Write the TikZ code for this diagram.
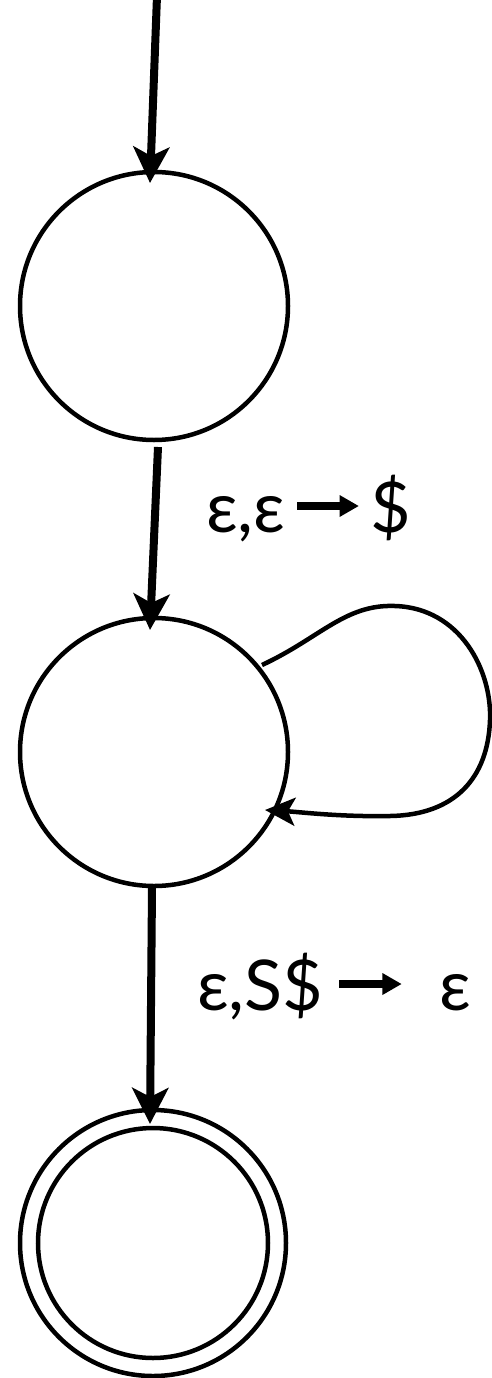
\documentclass[tikz,border=0pt]{standalone}
\usepackage{fontspec}
\setmainfont{Lato}
\usetikzlibrary{arrows.meta}
\newcommand{\textarrowglyph}{\tikz[baseline=0pt,x=1pt,y=1pt,line width=0pt]{\fill (0,22) rectangle (46,30); \fill (43,15) -- (62,26) -- (43,37) -- cycle;}}
\begin{document}
\begin{tikzpicture}[x=1pt,y=-1pt,
  state/.style={circle,draw,line width=4.5pt,minimum size=268pt,inner sep=0pt,outer sep=0pt},
  arr/.style={line width=8pt,-{Stealth[length=36pt,width=36pt,inset=9pt]}},
  looparr/.style={line width=4.5pt,-{Stealth[length=30pt,width=28pt,inset=7pt]}},
  lbl/.style={inner sep=0pt,anchor=base west,font=\fontsize{70pt}{76pt}\selectfont}]
\useasboundingbox (0,0) rectangle (492,1378);
\node[state] (q1) at (154,306) {};
\node[state] (q2) at (154,752) {};
\node[state,minimum size=266pt] (q3) at (153,1243) {};
\node[state,minimum size=230pt] (q3i) at (q3) {};
\coordinate (s) at (157,-4);
\draw[arr] (s) -- ([xshift=-4pt,yshift=-11pt]q1.north);
\draw[arr] ([xshift=4pt,yshift=-7pt]q1.south) -- ([xshift=-4pt,yshift=-12pt]q2.north);
\draw[arr] ([xshift=-2pt,yshift=-2pt]q2.south) -- ([xshift=-3pt,yshift=-14pt]q3.north);
\coordinate (la) at (262,665);
\coordinate (lb) at (265,810);
\draw[looparr] (la) .. controls (320,638) and (345,604) .. (395,606)
  .. controls (460,608) and (492,670) .. (490,720)
  .. controls (488,778) and (455,815) .. (390,816)
  .. controls (340,817) and (300,812) .. (lb);
\node[lbl] (l1) at (206,532) {ε,ε\kern11pt\textarrowglyph\kern12pt\$};
\node[lbl] (l2) at (197,1010) {ε,S\$\kern16pt\textarrowglyph\kern20pt\ ε};
\end{tikzpicture}
\end{document}
